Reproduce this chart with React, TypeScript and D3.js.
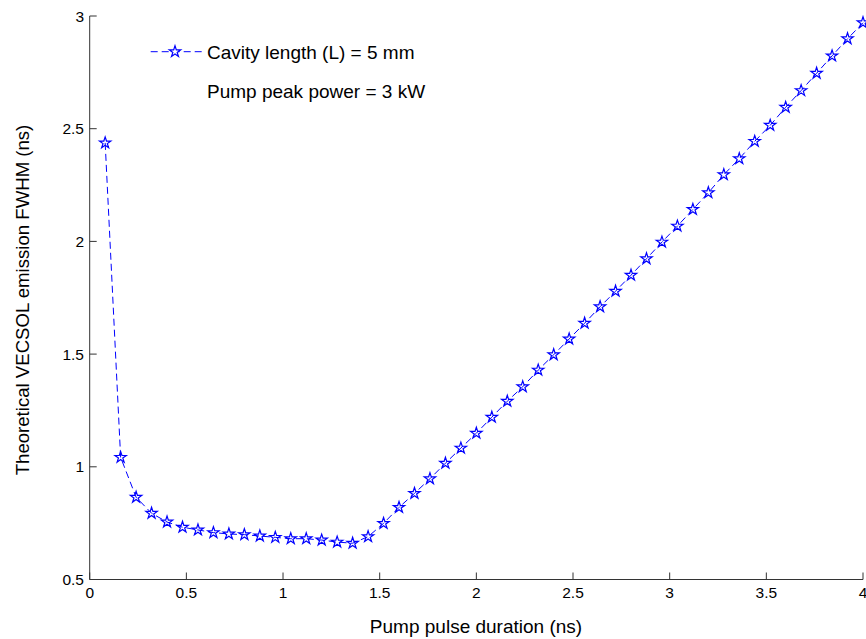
import React from "react";
import * as d3 from "d3";

const pulseDuration: number[] = [
  0.08, 0.16, 0.24, 0.32, 0.4, 0.48, 0.56, 0.64, 0.72, 0.8,
  0.88, 0.96, 1.04, 1.12, 1.2, 1.28, 1.36, 1.44, 1.52, 1.6,
  1.68, 1.76, 1.84, 1.92, 2.0, 2.08, 2.16, 2.24, 2.32, 2.4,
  2.48, 2.56, 2.64, 2.72, 2.8, 2.88, 2.96, 3.04, 3.12, 3.2,
  3.28, 3.36, 3.44, 3.52, 3.6, 3.68, 3.76, 3.84, 3.92, 4.0,
];
const fwhm: number[] = [
  2.437, 1.042, 0.865, 0.794, 0.755, 0.732, 0.72, 0.708, 0.702, 0.699,
  0.693, 0.687, 0.681, 0.681, 0.675, 0.666, 0.661, 0.69, 0.749, 0.82,
  0.882, 0.947, 1.016, 1.083, 1.149, 1.22, 1.291, 1.355, 1.429, 1.497,
  1.567, 1.637, 1.71, 1.779, 1.85, 1.923, 1.997, 2.068, 2.142, 2.216,
  2.296, 2.367, 2.444, 2.515, 2.595, 2.669, 2.746, 2.823, 2.899, 2.97,
];
const xTicks: number[] = [0, 0.5, 1, 1.5, 2, 2.5, 3, 3.5, 4];
const yTicks: number[] = [0.5, 1, 1.5, 2, 2.5, 3];
const legendLines: string[] = ["Cavity length (L) = 5 mm", "Pump peak power = 3 kW"];
const xLabel = "Pump pulse duration (ns)";
const yLabel = "Theoretical VECSOL emission FWHM (ns)";

const W = 866;
const H = 639;
const FONT = "'Liberation Sans', Arial, Helvetica, sans-serif";
const BLUE = "#0000ff";
const AXIS = "#333333";

export default function App() {
  const x = d3.scaleLinear().domain([0, 4]).range([89.7, 863]);
  const y = d3.scaleLinear().domain([0.5, 3]).range([579.5, 16]);
  const pts = pulseDuration.map((d, i) => [d, fwhm[i]] as [number, number]);
  const line = d3
    .line<[number, number]>()
    .x((d) => x(d[0]))
    .y((d) => y(d[1]));
  const star = d3.symbol().type(d3.symbolStar).size(40)() as string;
  const x0 = x(0);
  const y0 = y(0.5);
  const tickLen = 7;

  return (
    <svg
      width={W}
      height={H}
      style={{ position: "absolute", left: 0, top: 0, background: "#fff" }}
      fontFamily={FONT}
    >
      <rect x={0} y={0} width={W} height={H} fill="#fff" />
      {/* axes */}
      <line x1={x0} y1={y0} x2={x(4)} y2={y0} stroke={AXIS} strokeWidth={1} />
      <line x1={x0} y1={y0} x2={x0} y2={y(3)} stroke={AXIS} strokeWidth={1} />
      {xTicks.map((t) => (
        <g key={"xt" + t}>
          <line x1={x(t)} x2={x(t)} y1={y0} y2={y0 - tickLen} stroke={AXIS} strokeWidth={1} />
          <text x={x(t)} y={597.5} textAnchor="middle" fontSize={15.5} fill="#000">
            {String(t)}
          </text>
        </g>
      ))}
      {yTicks.map((t) => (
        <g key={"yt" + t}>
          <line x1={x0} x2={x0 + tickLen} y1={y(t)} y2={y(t)} stroke={AXIS} strokeWidth={1} />
          <text x={84} y={y(t)} dy="0.36em" textAnchor="end" fontSize={15.5} fill="#000">
            {String(t)}
          </text>
        </g>
      ))}
      {/* labels */}
      <text x={476} y={632.5} textAnchor="middle" fontSize={19} fill="#000">
        {xLabel}
      </text>
      <text
        transform={`translate(29,300) rotate(-90)`}
        textAnchor="middle"
        fontSize={18.6}
        fill="#000"
      >
        {yLabel}
      </text>
      {/* series */}
      <path d={line(pts) || ""} fill="none" stroke={BLUE} strokeWidth={1} strokeDasharray="7,4" />
      {pts.map((p, i) => (
        <path
          key={"m" + i}
          d={star}
          transform={`translate(${x(p[0])},${y(p[1])})`}
          fill="none"
          stroke={BLUE}
          strokeWidth={1.2}
        />
      ))}
      {/* legend */}
      <line x1={150.7} x2={201.7} y1={51.7} y2={51.7} stroke={BLUE} strokeWidth={1} strokeDasharray="7,4" />
      <path d={star} transform="translate(175,51.7)" fill="#fff" stroke={BLUE} strokeWidth={1.2} />
      <text x={207} y={59.3} fontSize={19} fill="#000">
        {legendLines[0]}
      </text>
      <text x={207} y={97.7} fontSize={19} fill="#000">
        {legendLines[1]}
      </text>
    </svg>
  );
}
